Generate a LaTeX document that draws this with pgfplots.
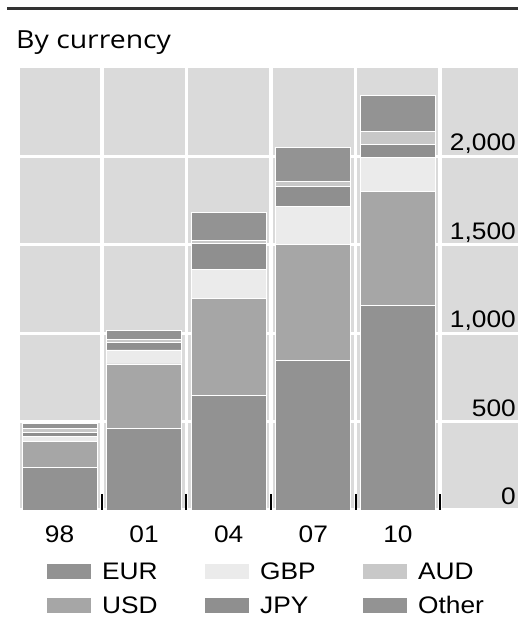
\documentclass[border=0pt]{standalone}
\usepackage{fontspec}
\setmainfont{Liberation Sans}
\newfontfamily\tickfont[FakeStretch=1.1]{Liberation Sans}
\newfontfamily\titlefont[FakeStretch=1.14]{Open Sans}
\usepackage{pgfplots}
\pgfplotsset{compat=1.18}

\definecolor{bgc}{HTML}{DADADA}
\definecolor{eurc}{HTML}{929292}
\definecolor{usdc}{HTML}{A6A6A6}
\definecolor{gbpc}{HTML}{EBEBEB}
\definecolor{jpyc}{HTML}{8F8F8F}
\definecolor{audc}{HTML}{C8C8C8}
\definecolor{othc}{HTML}{939393}

\pgfplotsset{swatch/.style={legend image code/.code={%
  \fill[##1,draw=none] (0bp,-7.5bp) rectangle (44bp,7.5bp);}}}

% turnover by currency, stacked bottom-up
\pgfplotstableread{
x eur  usd gbp jpy aud other
0 240  150  27  24  19  28
1 460  366  79  43  19  51
2 648  550 164 144  19 156
3 845  658 214 112  30 192
4 1155 648 191  72  75 203
}\currency

\begin{document}
\begin{tikzpicture}
\draw[line width=2.5bp, black!80] (7bp,609.7bp) -- (518bp,609.7bp);
\node[anchor=base west, inner sep=0pt, font=\titlefont\fontsize{25}{30}\selectfont]
  at (16bp,569.5bp) {By currency};
\begin{axis}[
  at={(20bp,108bp)}, anchor=south west,
  scale only axis, width=498bp, height=442bp,
  set layers,
  ybar stacked, bar width=75bp,
  xmin=-0.467, xmax=5.42, ymin=0, ymax=2500,
  axis line style={draw=none},
  axis background/.style={fill=bgc},
  xtick={0,...,4}, xticklabels={98,01,04,07,10},
  minor xtick={0.5,1.5,2.5,3.5,4.5},
  xtick pos=bottom,
  major x tick style={draw=none},
  minor x tick style={black, line width=2bp},
  minor tick length=16bp,
  xminorgrids=true, ymajorgrids=true,
  minor x grid style={white, line width=3.5bp},
  major y grid style={white, line width=3bp},
  ytick={0,500,1000,1500,2000},
  yticklabel pos=right,
  major y tick style={draw=none},
  /pgf/number format/1000 sep={,},
  /pgf/number format/assume math mode=true,
  tick label style={font=\tickfont\fontsize{24}{28}\selectfont},
  xticklabel style={anchor=base, inner sep=0pt, yshift=-33bp},
  yticklabel style={anchor=base east, inner sep=0pt, xshift=-2bp, yshift=5.5bp},
  legend columns=3,
  legend cell align=left,
  legend style={at={(axis description cs:0.0542,-0.1190)}, anchor=north west,
    draw=none, fill=none, inner sep=0pt, column sep=0pt, row sep=15.5bp,
    nodes={inner sep=0pt}, font=\tickfont\fontsize{24}{28}\selectfont},
]
\addplot[fill=eurc, draw=white, line width=0.8bp, forget plot] table[x=x,y=eur]{\currency};
\addplot[fill=usdc, draw=white, line width=0.8bp, forget plot] table[x=x,y=usd]{\currency};
\addplot[fill=gbpc, draw=white, line width=0.8bp, forget plot] table[x=x,y=gbp]{\currency};
\addplot[fill=jpyc, draw=white, line width=0.8bp, forget plot] table[x=x,y=jpy]{\currency};
\addplot[fill=audc, draw=white, line width=0.8bp, forget plot] table[x=x,y=aud]{\currency};
\addplot[fill=othc, draw=white, line width=0.8bp, forget plot] table[x=x,y=other]{\currency};

\addlegendimage{swatch, fill=eurc}
\addlegendentry{\hspace*{11bp}\makebox[103bp][l]{EUR}}
\addlegendimage{swatch, fill=gbpc}
\addlegendentry{\hspace*{11bp}\makebox[103bp][l]{GBP}}
\addlegendimage{swatch, fill=audc}
\addlegendentry{\hspace*{11bp}\makebox[60bp][l]{AUD}}
\addlegendimage{swatch, fill=usdc}
\addlegendentry{\hspace*{11bp}\makebox[103bp][l]{USD}}
\addlegendimage{swatch, fill=jpyc}
\addlegendentry{\hspace*{11bp}\makebox[103bp][l]{JPY}}
\addlegendimage{swatch, fill=othc}
\addlegendentry{\hspace*{11bp}\makebox[60bp][l]{Other}}
\end{axis}
\pgfresetboundingbox
\useasboundingbox (0,0) rectangle (518bp,618bp);
\end{tikzpicture}
\end{document}
